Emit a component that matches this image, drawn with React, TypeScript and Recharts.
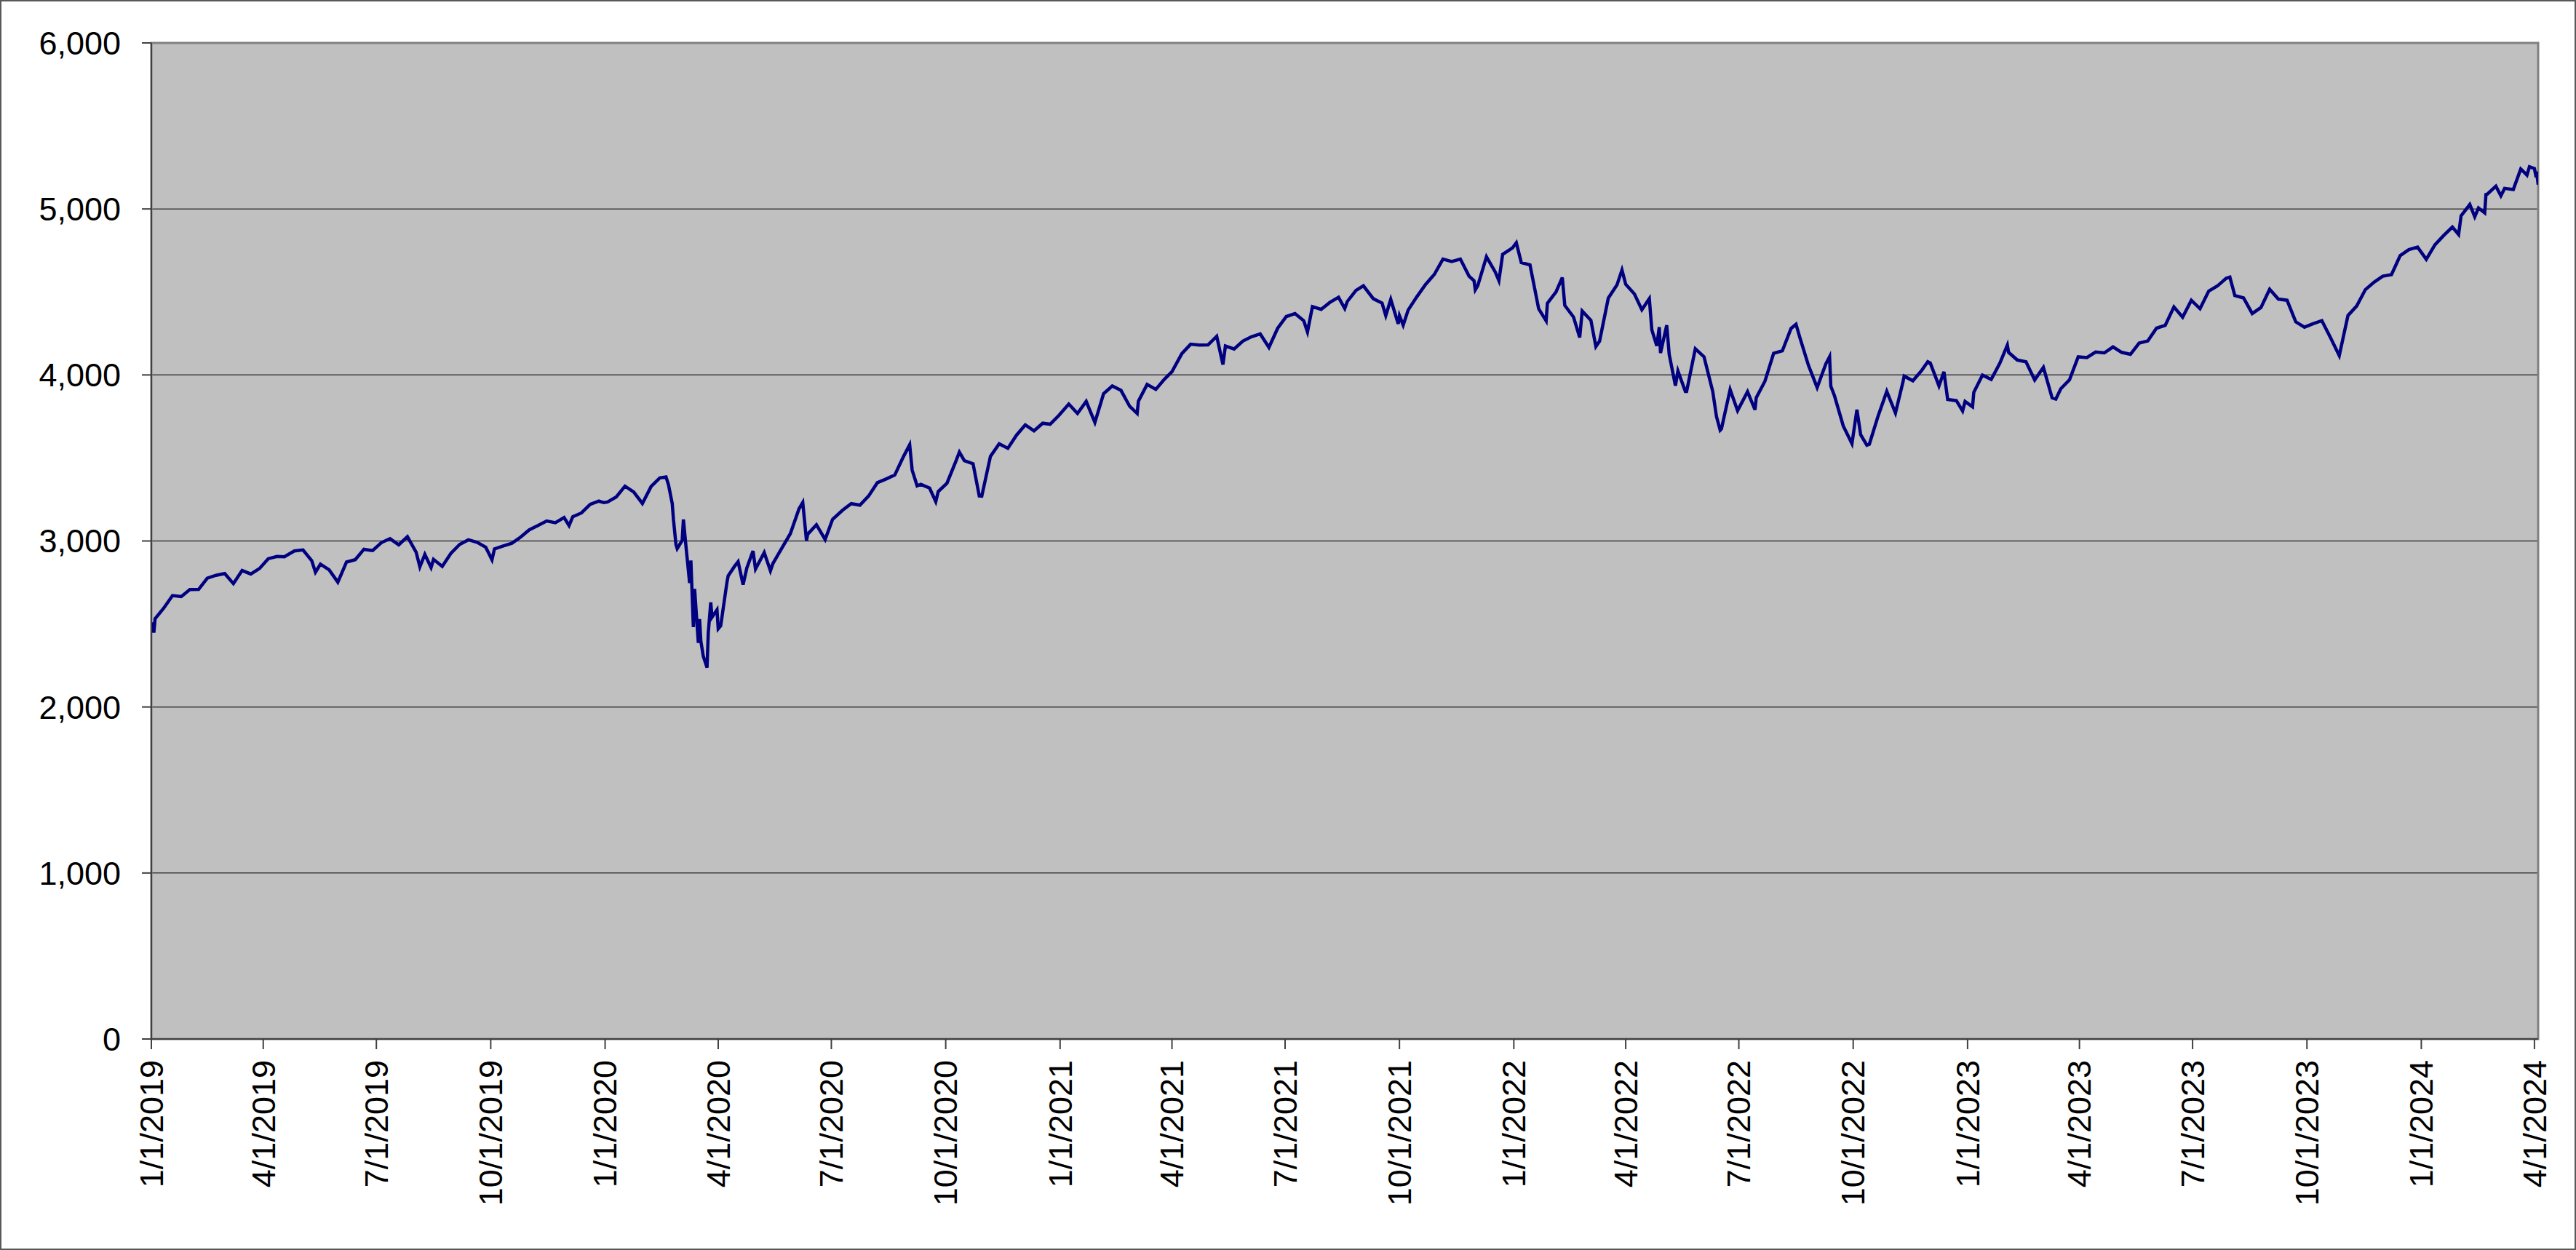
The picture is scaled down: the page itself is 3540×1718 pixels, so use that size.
import { LineChart, Line, XAxis, YAxis, CartesianGrid, ReferenceArea } from "recharts";

// daily/weekly closes, grouped by year (MM-DD)
const dates2019 = ["01-02","01-03","01-04","01-11","01-18","01-25","02-01","02-08","02-15","02-22","03-01","03-08","03-15","03-22","03-29","04-05","04-12","04-18","04-26","05-03","05-10","05-13","05-17","05-24","05-31","06-07","06-14","06-21","06-28","07-05","07-12","07-19","07-26","08-02","08-05","08-09","08-14","08-16","08-23","08-30","09-06","09-13","09-20","09-27","10-02","10-04","10-11","10-18","10-25","11-01","11-08","11-15","11-22","11-29","12-03","12-06","12-13","12-20","12-27","12-31"];
const close2019 = [2510,2448,2532,2596,2671,2665,2707,2708,2776,2793,2804,2743,2822,2801,2834,2893,2907,2905,2940,2946,2881,2812,2860,2826,2752,2873,2887,2950,2942,2990,3014,2977,3026,2932,2844,2919,2840,2889,2847,2926,2979,3007,2992,2962,2887,2952,2970,2986,3023,3067,3093,3120,3110,3141,3093,3146,3169,3221,3240,3231];

const dates2020 = ["01-03","01-10","01-17","01-24","01-31","02-07","02-14","02-19","02-21","02-24","02-25","02-27","02-28","03-03","03-04","03-06","03-09","03-10","03-12","03-13","03-16","03-17","03-18","03-20","03-23","03-24","03-26","03-27","03-31","04-01","04-03","04-08","04-09","04-14","04-17","04-21","04-24","04-29","05-01","05-08","05-13","05-15","05-22","05-29","06-05","06-08","06-11","06-12","06-19","06-26","07-02","07-10","07-17","07-24","07-31","08-07","08-14","08-21","08-28","09-02","09-04","09-08","09-11","09-18","09-23","09-25","10-02","10-09","10-12","10-16","10-23","10-28","10-30","11-06","11-13","11-20","11-27","12-04","12-11","12-18","12-24","12-31"];
const close2020 = [3235,3265,3330,3295,3226,3328,3380,3386,3338,3226,3128,2979,2954,3003,3130,2972,2747,2882,2481,2711,2386,2529,2398,2305,2237,2447,2630,2541,2585,2471,2489,2750,2790,2846,2875,2737,2837,2940,2831,2930,2820,2864,2955,3044,3194,3232,3002,3041,3098,3009,3130,3185,3225,3216,3271,3351,3373,3397,3508,3580,3427,3332,3341,3319,3237,3298,3348,3477,3535,3484,3465,3271,3270,3510,3585,3558,3638,3699,3663,3709,3703,3756];

const dates2021 = ["01-08","01-15","01-22","01-27","01-29","02-05","02-12","02-19","02-26","03-04","03-05","03-12","03-19","03-26","04-01","04-09","04-16","04-23","04-30","05-07","05-12","05-14","05-21","05-28","06-04","06-11","06-18","06-25","07-02","07-09","07-16","07-19","07-23","07-30","08-06","08-13","08-18","08-20","08-27","09-02","09-10","09-17","09-20","09-24","09-30","10-01","10-04","10-08","10-15","10-22","10-29","11-05","11-12","11-19","11-26","11-30","12-01","12-03","12-10","12-17","12-20","12-23","12-31"];
const close2021 = [3825,3768,3841,3750,3714,3887,3934,3907,3811,3768,3842,3943,3913,3975,4020,4129,4185,4180,4181,4233,4063,4174,4156,4204,4230,4247,4166,4281,4352,4370,4327,4259,4412,4395,4437,4468,4400,4442,4509,4537,4459,4433,4358,4455,4308,4357,4300,4391,4471,4545,4605,4698,4683,4698,4595,4567,4513,4538,4712,4621,4568,4726,4766];

const dates2022 = ["01-03","01-07","01-14","01-21","01-27","01-28","02-04","02-09","02-11","02-18","02-23","02-25","03-04","03-08","03-11","03-18","03-25","03-29","04-01","04-08","04-14","04-20","04-22","04-26","04-28","04-29","05-04","05-06","05-11","05-13","05-19","05-20","05-27","06-03","06-10","06-13","06-16","06-17","06-24","06-30","07-08","07-14","07-15","07-22","07-29","08-05","08-12","08-16","08-19","08-26","09-02","09-09","09-12","09-13","09-16","09-23","09-30","10-04","10-07","10-12","10-14","10-21","10-28","11-04","11-10","11-11","11-18","11-25","11-30","12-02","12-09","12-13","12-16","12-23","12-28","12-30"];
const close2022 = [4796,4677,4663,4398,4326,4432,4501,4587,4419,4349,4226,4385,4329,4171,4204,4463,4543,4632,4546,4488,4393,4460,4272,4175,4288,4132,4300,4123,3935,4024,3901,3901,4158,4109,3901,3750,3667,3675,3912,3785,3899,3790,3863,3962,4130,4145,4280,4305,4228,4058,3924,4067,4110,3932,3873,3693,3586,3791,3640,3577,3583,3752,3901,3771,3956,3993,3965,4026,4080,4072,3934,4019,3852,3845,3783,3840];

const dates2023 = ["01-05","01-06","01-13","01-20","01-27","02-02","02-03","02-10","02-17","02-24","03-03","03-10","03-13","03-17","03-24","03-31","04-07","04-14","04-21","04-28","05-05","05-12","05-19","05-26","06-02","06-09","06-16","06-23","06-30","07-07","07-14","07-21","07-28","07-31","08-04","08-11","08-18","08-25","09-01","09-08","09-15","09-22","09-29","10-06","10-13","10-20","10-27","11-03","11-10","11-17","11-24","12-01","12-08","12-15","12-22","12-29"];
const close2023 = [3808,3895,3999,3973,4071,4180,4136,4090,4079,3970,4046,3862,3855,3917,3971,4109,4105,4138,4133,4169,4136,4124,4192,4205,4282,4299,4410,4348,4450,4399,4505,4536,4582,4589,4478,4464,4370,4406,4516,4457,4450,4320,4288,4309,4327,4224,4117,4358,4415,4514,4559,4595,4604,4719,4755,4770];

const dates2024 = ["01-05","01-12","01-19","01-26","01-31","02-02","02-09","02-13","02-16","02-21","02-22","02-23","03-01","03-05","03-08","03-15","03-21","03-22","03-26","03-28","04-01","04-02","04-03","04-04"];
const close2024 = [4697,4784,4840,4891,4846,4959,5027,4953,5006,4976,5087,5089,5137,5079,5124,5117,5241,5234,5204,5254,5243,5205,5211,5147];

const yTicks = [0, 1000, 2000, 3000, 4000, 5000, 6000];
const quarterTicks = [
  "2019-01-01","2019-04-01","2019-07-01","2019-10-01",
  "2020-01-01","2020-04-01","2020-07-01","2020-10-01",
  "2021-01-01","2021-04-01","2021-07-01","2021-10-01",
  "2022-01-01","2022-04-01","2022-07-01","2022-10-01",
  "2023-01-01","2023-04-01","2023-07-01","2023-10-01",
  "2024-01-01","2024-04-01",
];

const DAY = 86400000;
const toDay = (iso: string) => Date.parse(iso + "T00:00:00Z") / DAY;

const years: [string, string[], number[]][] = [
  ["2019", dates2019, close2019],
  ["2020", dates2020, close2020],
  ["2021", dates2021, close2021],
  ["2022", dates2022, close2022],
  ["2023", dates2023, close2023],
  ["2024", dates2024, close2024],
];

const data = years.flatMap(([yr, ds, cs]) =>
  ds.map((d, i) => ({ t: toDay(`${yr}-${d}`), close: cs[i] }))
);

const X_DOMAIN: [number, number] = [toDay("2019-01-01"), toDay("2024-04-04")];
const FONT = "'Liberation Sans', Arial, sans-serif";
const AXIS_COLOR = "#404040";

const fmtDate = (day: number) => {
  const d = new Date(day * DAY);
  return `${d.getUTCMonth() + 1}/${d.getUTCDate()}/${d.getUTCFullYear()}`;
};

const fmtNum = (v: number) => v.toLocaleString("en-US");

function DateTick({ x, y, payload }: any) {
  return (
    <text
      x={x}
      y={y}
      transform={`rotate(-90 ${x} ${y})`}
      textAnchor="end"
      dy="0.35em"
      fontSize={45}
      fontFamily={FONT}
      fill="#000"
    >
      {fmtDate(payload.value)}
    </text>
  );
}

export default function App() {
  return (
    <div style={{ position: "absolute", left: 0, top: 0, width: 3540, height: 1718, background: "#fff" }}>
      <LineChart
        width={3540}
        height={1718}
        data={data}
        margin={{ top: 59, right: 52, bottom: 0, left: 0 }}
      >
        <CartesianGrid fill="#C0C0C0" stroke="#3c3c3c" strokeWidth={1.5} vertical={false} />
        <XAxis
          dataKey="t"
          type="number"
          domain={X_DOMAIN}
          ticks={quarterTicks.map(toDay)}
          tick={<DateTick />}
          height={290}
          stroke={AXIS_COLOR}
          strokeWidth={2}
          tickSize={14}
          tickMargin={15}
          interval={0}
          allowDataOverflow
        />
        <YAxis
          type="number"
          domain={[0, 6000]}
          ticks={yTicks}
          tickFormatter={fmtNum}
          width={208}
          stroke={AXIS_COLOR}
          strokeWidth={2}
          tickSize={13}
          tickMargin={29}
          tick={{ fontSize: 45, fontFamily: FONT, fill: "#000" }}
          interval={0}
        />
        <ReferenceArea
          x1={X_DOMAIN[0]}
          x2={X_DOMAIN[1]}
          y1={0}
          y2={6000}
          fill="none"
          stroke="#808080"
          strokeWidth={3}
          ifOverflow="visible"
        />
        <Line
          type="linear"
          dataKey="close"
          stroke="#000080"
          strokeWidth={4.5}
          dot={false}
          isAnimationActive={false}
        />
      </LineChart>
      <div
        style={{
          position: "absolute",
          inset: 0,
          border: "2px solid #595959",
          boxSizing: "border-box",
          pointerEvents: "none",
        }}
      />
    </div>
  );
}
